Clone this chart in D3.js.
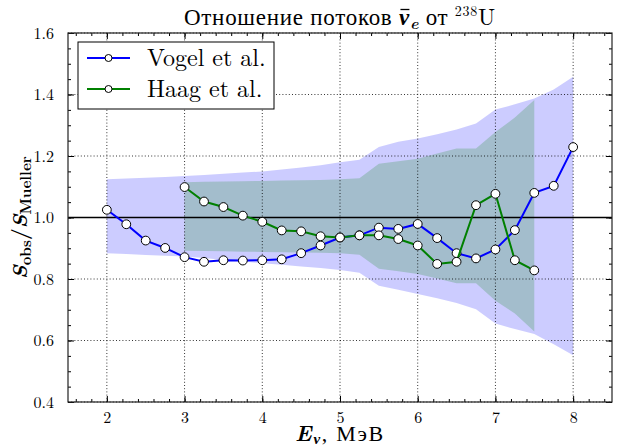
<!DOCTYPE html>
<html><head><meta charset="utf-8">
<script src="https://cdn.jsdelivr.net/npm/d3@7/dist/d3.min.js"></script>
<style>body{margin:0;background:#fff;}</style></head>
<body><svg id="c" width="631" height="448"></svg>
<script>
const energyVogel = [2.0,2.25,2.5,2.75,3.0,3.25,3.5,3.75,4.0,4.25,4.5,4.75,5.0,5.25,5.5,5.75,6.0,6.25,6.5,6.75,7.0,7.25,7.5,7.75,8.0];
const ratioVogel = [1.025,0.978,0.925,0.901,0.871,0.856,0.861,0.860,0.861,0.864,0.884,0.909,0.935,0.942,0.967,0.963,0.979,0.933,0.884,0.867,0.896,0.959,1.080,1.103,1.229];
const bandVogelHigh = [1.124,1.127,1.129,1.132,1.135,1.138,1.142,1.146,1.150,1.156,1.163,1.170,1.180,1.188,1.229,1.246,1.257,1.271,1.286,1.306,1.351,1.368,1.387,1.416,1.458];
const bandVogelLow = [0.884,0.881,0.878,0.876,0.873,0.868,0.862,0.857,0.851,0.846,0.841,0.836,0.829,0.820,0.778,0.765,0.751,0.737,0.722,0.702,0.655,0.637,0.621,0.588,0.552];

const energyHaag = [3.0,3.25,3.5,3.75,4.0,4.25,4.5,4.75,5.0,5.25,5.5,5.75,6.0,6.25,6.5,6.75,7.0,7.25,7.5];
const ratioHaag = [1.099,1.052,1.034,1.006,0.986,0.958,0.955,0.939,0.935,0.942,0.942,0.930,0.909,0.849,0.856,1.040,1.077,0.861,0.828];
const bandHaagHigh = [1.115,1.116,1.117,1.118,1.119,1.120,1.121,1.122,1.124,1.128,1.175,1.183,1.191,1.208,1.224,1.224,1.278,1.325,1.382];
const bandHaagLow = [0.892,0.891,0.890,0.889,0.888,0.887,0.886,0.885,0.884,0.879,0.833,0.825,0.816,0.802,0.786,0.786,0.729,0.688,0.629];

const xTicks = [2,3,4,5,6,7,8];
const yTicks = [0.4,0.6,0.8,1.0,1.2,1.4,1.6];
const legendLabels = ["Vogel et al.","Haag et al."];

const FONT='"Latin Modern Roman","Liberation Serif",serif';
const CYR='"Liberation Serif",serif';
const GREEK='"Liberation Serif",serif';
const L=68,R=612,T=33,B=402;
const svg=d3.select("#c");
const x=d3.scaleLinear().domain([1.5,8.5]).range([L,R]);
const y=d3.scaleLinear().domain([0.4,1.6]).range([B,T]);

const area=(xs,lo,hi)=>d3.area().x((d,i)=>x(xs[i])).y0((d,i)=>y(lo[i])).y1((d,i)=>y(hi[i]))(xs);
svg.append("path").attr("d",area(energyVogel,bandVogelLow,bandVogelHigh)).attr("fill","#0000ff").attr("fill-opacity",0.2);
svg.append("path").attr("d",area(energyHaag,bandHaagLow,bandHaagHigh)).attr("fill","#008000").attr("fill-opacity",0.2);

// grid
const g=svg.append("g");
g.selectAll(".gx").data(xTicks).join("line").attr("x1",d=>x(d)).attr("x2",d=>x(d)).attr("y1",T).attr("y2",B)
 .attr("stroke","#000").attr("stroke-width",0.8).attr("stroke-dasharray","1,2.2");
g.selectAll(".gy").data(yTicks).join("line").attr("y1",d=>y(d)).attr("y2",d=>y(d)).attr("x1",L).attr("x2",R)
 .attr("stroke","#000").attr("stroke-width",0.8).attr("stroke-dasharray","1,2.2");

// reference line
svg.append("line").attr("x1",L).attr("x2",R).attr("y1",y(1)).attr("y2",y(1)).attr("stroke","#000").attr("stroke-width",1.6);

// axes with inward ticks on all sides
const xMinor=d3.range(1.6,8.45,0.2), yMinor=d3.range(0.45,1.6,0.05);
function axisG(axis,tr){return svg.append("g").attr("transform",tr).call(axis).call(s=>s.select(".domain").remove());}
const bx=axisG(d3.axisBottom(x).tickValues(xTicks).tickSizeInner(-6).tickSizeOuter(0).tickPadding(10).tickFormat(d3.format("d")),`translate(0,${B})`);
bx.selectAll("text").style("font-size","16px").style("font-family",FONT);
axisG(d3.axisBottom(x).tickValues(xMinor).tickSizeInner(-3).tickSizeOuter(0).tickFormat(""),`translate(0,${B})`);
axisG(d3.axisTop(x).tickValues(xTicks).tickSizeInner(-6).tickSizeOuter(0).tickFormat(""),`translate(0,${T})`);
axisG(d3.axisTop(x).tickValues(xMinor).tickSizeInner(-3).tickSizeOuter(0).tickFormat(""),`translate(0,${T})`);
const ly=axisG(d3.axisLeft(y).tickValues(yTicks).tickSizeInner(-6).tickSizeOuter(0).tickPadding(14).tickFormat(d3.format(".1f")),`translate(${L},0)`);
ly.selectAll("text").style("font-size","16px").style("font-family",FONT);
axisG(d3.axisLeft(y).tickValues(yMinor).tickSizeInner(-3).tickSizeOuter(0).tickFormat(""),`translate(${L},0)`);
axisG(d3.axisRight(y).tickValues(yTicks).tickSizeInner(-6).tickSizeOuter(0).tickFormat(""),`translate(${R},0)`);
axisG(d3.axisRight(y).tickValues(yMinor).tickSizeInner(-3).tickSizeOuter(0).tickFormat(""),`translate(${R},0)`);
svg.selectAll(".tick line").attr("stroke","#000");
svg.append("rect").attr("x",L).attr("y",T).attr("width",R-L).attr("height",B-T).attr("fill","none").attr("stroke","#222").attr("stroke-width",1.2);

// series
function series(xs,vs,color){
  svg.append("path").datum(vs).attr("d",d3.line().x((d,i)=>x(xs[i])).y(d=>y(d))).attr("fill","none").attr("stroke",color).attr("stroke-width",2);
  svg.append("g").selectAll("circle").data(vs).join("circle").attr("cx",(d,i)=>x(xs[i])).attr("cy",d=>y(d)).attr("r",4.4)
    .attr("fill","#fff").attr("stroke","#000").attr("stroke-width",1);
}
series(energyVogel,ratioVogel,"#0000ff");
series(energyHaag,ratioHaag,"#008000");

// legend
const lg=svg.append("g");
lg.append("rect").attr("x",78).attr("y",42).attr("width",196).attr("height",67).attr("fill","#fff").attr("stroke","#000").attr("stroke-width",1);
[["#0000ff",58],["#008000",89]].forEach((c,i)=>{
  lg.append("line").attr("x1",87).attr("x2",130).attr("y1",c[1]).attr("y2",c[1]).attr("stroke",c[0]).attr("stroke-width",2);
  lg.append("circle").attr("cx",108.5).attr("cy",c[1]).attr("r",3.5).attr("fill","#fff").attr("stroke","#000").attr("stroke-width",1);
  lg.append("text").attr("x",147).attr("y",c[1]+8).style("font-family",FONT).style("font-size","24px").text(legendLabels[i]);
});

function fitWidth(sel,target){
  const n=sel.node(); const w=n.getComputedTextLength(); const k=n.getNumberOfChars();
  sel.style("letter-spacing",((target-w)/k).toFixed(2)+"px");
}

// title
const t=svg.append("text").attr("x",(L+R)/2).attr("y",25).attr("text-anchor","middle").style("font-family",FONT).style("font-size","23px");
t.append("tspan").style("font-family",CYR).text("Отношение потоков ");
t.append("tspan").style("font-family",GREEK).style("font-weight","bold").style("font-style","italic").text("ν");
t.append("tspan").style("font-weight","bold").style("font-style","italic").style("font-size","16px").attr("dy",4).text("e");
t.append("tspan").attr("dy",-4).style("font-family",CYR).text(" от ");
t.append("tspan").style("font-size","14px").attr("dy",-9).text("238");
t.append("tspan").attr("dy",9).text("U");
fitWidth(t,312);
const idx="Отношение потоков ".length;
const ext=t.node().getExtentOfChar(idx);
svg.append("line").attr("x1",ext.x+1.5).attr("x2",ext.x+ext.width-0.5).attr("y1",ext.y+4.5).attr("y2",ext.y+4.5).attr("stroke","#000").attr("stroke-width",1.3);

// x label
const xl=svg.append("text").attr("x",(L+R)/2).attr("y",441).attr("text-anchor","middle").style("font-family",FONT).style("font-size","22px");
xl.append("tspan").style("font-weight","bold").style("font-style","italic").text("E");
xl.append("tspan").style("font-family",GREEK).style("font-weight","bold").style("font-style","italic").style("font-size","15px").attr("dy",3).text("ν");
xl.append("tspan").attr("dy",-3).style("font-family",CYR).text(", МэВ");
fitWidth(xl,90);

// y label
const yl=svg.append("text").attr("transform",`translate(27,${(T+B)/2}) rotate(-90)`).attr("text-anchor","middle").style("font-family",FONT).style("font-size","21px").style("font-weight","bold");
yl.append("tspan").style("font-style","italic").text("S");
yl.append("tspan").style("font-size","15px").attr("dy",4).text("obs");
yl.append("tspan").attr("dy",-4).text("/");
yl.append("tspan").style("font-style","italic").text("S");
yl.append("tspan").style("font-size","15px").attr("dy",4).text("Mueller");
</script></body></html>
